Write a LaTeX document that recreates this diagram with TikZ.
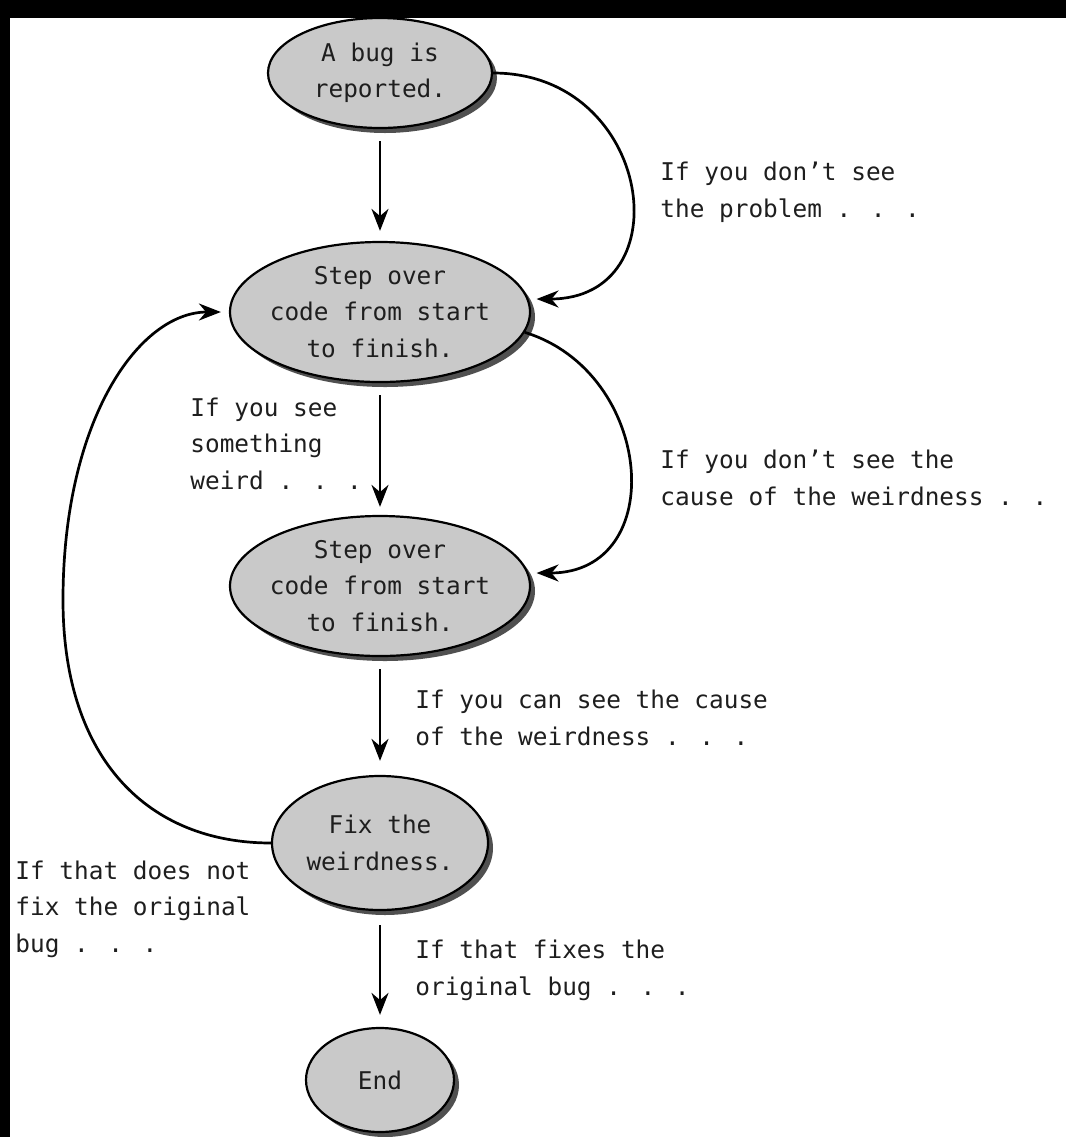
\documentclass[tikz,border=0pt]{standalone}
\usepackage{fontspec}
\newfontfamily\monofam{DejaVu Sans Mono}
\newcommand\labfont{\monofam\fontsize{12.2pt}{18.25pt}\selectfont}
\usetikzlibrary{shapes.geometric,arrows.meta,shadows}
\definecolor{boxgray}{RGB}{201,201,201}
\definecolor{shadowgray}{RGB}{80,80,80}
\definecolor{inkcol}{RGB}{30,30,30}
\begin{document}
\begin{tikzpicture}[x=0.5pt,y=-0.5pt,
  ell/.style={ellipse, draw=black, line width=1.1pt, fill=boxgray, inner sep=0pt,
    drop shadow={shadow xshift=2.5pt,shadow yshift=-2.5pt,fill=shadowgray,opacity=1}},
  txt/.style={font=\labfont, text=inkcol, align=center, inner sep=0pt},
  lbl/.style={font=\labfont, text=inkcol, align=left, inner sep=0pt, anchor=base west},
  arr/.style={-{Stealth[length=11pt,width=8.5pt]}, line width=1.35pt, black},
]
\useasboundingbox (0,0) rectangle (1066,1137);
\fill[white] (0,0) rectangle (1066,1137);
\fill[black] (0,0) rectangle (1066,18);
\fill[black] (0,0) rectangle (10,1137);

% nodes
\node[ell, minimum width=112pt, minimum height=55pt,
  label={[txt, name=n1t]center:A bug is\\reported.}] (n1) at (380,73) {};
\node[ell, minimum width=150pt, minimum height=70pt,
  label={[txt, name=n2t]center:Step over\\code from start\\to finish.}] (n2) at (380,312) {};
\node[ell, minimum width=150pt, minimum height=70pt,
  label={[txt, name=n3t]center:Step over\\code from start\\to finish.}] (n3) at (380,586) {};
\node[ell, minimum width=108pt, minimum height=67pt,
  label={[txt, name=n4t]center:Fix the\\weirdness.}] (n4) at (380,843) {};
\node[ell, minimum width=74pt, minimum height=52pt,
  label={[txt, name=n5t]center:End}] (n5) at (380,1080) {};

% labels (anchor = baseline of the last line)
\node[lbl] (l1) at (660,217) {If you don’t see\\the problem . . .};
\node[lbl] (l2) at (190,489) {If you see\\something\\weird . . .};
\node[lbl] (l3) at (660,505) {If you don’t see the\\cause of the weirdness . . .};
\node[lbl] (l4) at (415,745) {If you can see the cause\\of the weirdness . . .};
\node[lbl] (l5) at (15,952) {If that does not\\fix the original\\bug . . .};
\node[lbl] (l6) at (415,995) {If that fixes the\\original bug . . .};

% straight arrows
\draw[arr, shorten <=6pt, shorten >=5pt] (n1.south) -- (n2.north);
\draw[arr, shorten <=6pt, shorten >=4pt] (n2.south) -- (n3.north);
\draw[arr, shorten <=6pt, shorten >=7pt] (n3.south) -- (n4.north);
\draw[arr, shorten <=7pt, shorten >=6pt] (n4.south) -- (n5.north);

% curved arrows
\draw[arr, shorten >=4pt] (n1.east) .. controls +(160,0) and +(155,0) .. (n2.5);
\draw[arr, shorten >=4pt] (n2.-8) .. controls +(130,40) and +(141,0) .. (n3.5);
\coordinate (loopL) at (63,600);
\draw[arr, shorten >=4pt] (n4.west) .. controls +(-122,0) and +(0,160) .. (loopL)
  .. controls +(0,-180) and +(-90,0) .. (n2.west);
\end{tikzpicture}
\end{document}
